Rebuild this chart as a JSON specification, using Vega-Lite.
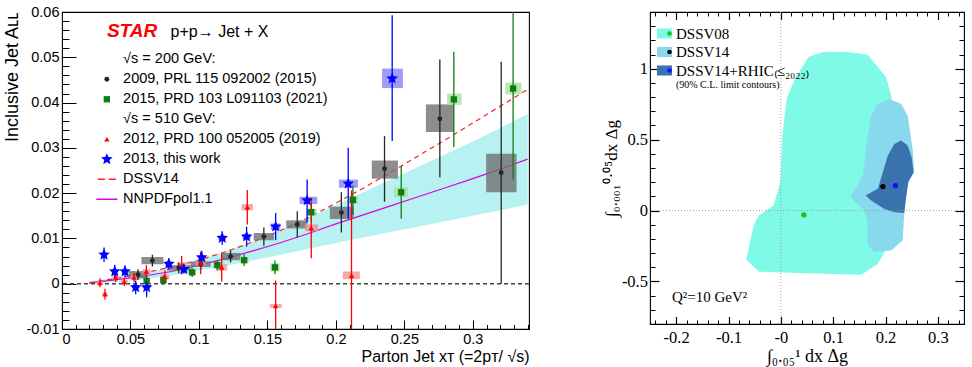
{
  "$schema": "https://vega.github.io/schema/vega-lite/v6.json",
  "background": "white",
  "padding": {"left": 3, "top": 3, "right": 0, "bottom": 0},
  "spacing": 121,
  "bounds": "flush",
  "resolve": {
    "scale": {"color": "independent", "fill": "independent", "shape": "independent", "size": "independent"},
    "legend": {"color": "independent", "fill": "independent", "shape": "independent", "size": "independent"}
  },
  "config": {
    "view": {"stroke": "#000000", "strokeWidth": 1.1},
    "axis": {"grid": false, "domain": false, "tickColor": "#000000", "labelColor": "#000000", "titleColor": "#000000", "titleFontWeight": "normal", "tickWidth": 1}
  },
  "datasets": {
    "pts": [
      {"series": "2009, PRL 115 092002 (2015)", "x": 0.0555, "y": 0.0020, "elo": 0.0008, "ehi": 0.0032, "bx1": 0.0485, "bx2": 0.0625, "by1": 0.0012, "by2": 0.0028},
      {"series": "2009, PRL 115 092002 (2015)", "x": 0.066, "y": 0.0051, "elo": 0.0038, "ehi": 0.0064, "bx1": 0.058, "bx2": 0.074, "by1": 0.0043, "by2": 0.0059},
      {"series": "2009, PRL 115 092002 (2015)", "x": 0.0852, "y": 0.0035, "elo": 0.0023, "ehi": 0.0047, "bx1": 0.0766, "bx2": 0.0939, "by1": 0.0029, "by2": 0.0041},
      {"series": "2009, PRL 115 092002 (2015)", "x": 0.1013, "y": 0.0043, "elo": 0.0030, "ehi": 0.0056, "bx1": 0.094, "bx2": 0.1085, "by1": 0.0037, "by2": 0.0049},
      {"series": "2009, PRL 115 092002 (2015)", "x": 0.1231, "y": 0.0060, "elo": 0.0047, "ehi": 0.0073, "bx1": 0.1166, "bx2": 0.1304, "by1": 0.0052, "by2": 0.0068},
      {"series": "2009, PRL 115 092002 (2015)", "x": 0.1474, "y": 0.0104, "elo": 0.0084, "ehi": 0.0124, "bx1": 0.140, "bx2": 0.1547, "by1": 0.0096, "by2": 0.0112},
      {"series": "2009, PRL 115 092002 (2015)", "x": 0.1718, "y": 0.0131, "elo": 0.0102, "ehi": 0.0160, "bx1": 0.1637, "bx2": 0.179, "by1": 0.0122, "by2": 0.0140},
      {"series": "2009, PRL 115 092002 (2015)", "x": 0.204, "y": 0.0157, "elo": 0.0113, "ehi": 0.0202, "bx1": 0.1956, "bx2": 0.2131, "by1": 0.0143, "by2": 0.0170},
      {"series": "2009, PRL 115 092002 (2015)", "x": 0.2355, "y": 0.0254, "elo": 0.0181, "ehi": 0.0326, "bx1": 0.2262, "bx2": 0.2453, "by1": 0.0232, "by2": 0.0272},
      {"series": "2009, PRL 115 092002 (2015)", "x": 0.2759, "y": 0.0364, "elo": 0.0235, "ehi": 0.0495, "bx1": 0.2657, "bx2": 0.2861, "by1": 0.0335, "by2": 0.0396},
      {"series": "2009, PRL 115 092002 (2015)", "x": 0.3207, "y": 0.0245, "elo": 0.0000, "ehi": 0.0490, "bx1": 0.3097, "bx2": 0.3319, "by1": 0.0202, "by2": 0.0287},
      {"series": "2015, PRD 103 L091103 (2021)", "x": 0.0618, "y": 0.0006, "elo": -0.0004, "ehi": 0.0016, "bx1": 0.0595, "bx2": 0.0641, "by1": 0.0001, "by2": 0.0011},
      {"series": "2015, PRD 103 L091103 (2021)", "x": 0.074, "y": 0.0008, "elo": -0.0002, "ehi": 0.0018, "bx1": 0.0715, "bx2": 0.0765, "by1": 0.0003, "by2": 0.0013},
      {"series": "2015, PRD 103 L091103 (2021)", "x": 0.095, "y": 0.0025, "elo": 0.0015, "ehi": 0.0035, "bx1": 0.0922, "bx2": 0.0978, "by1": 0.0020, "by2": 0.0030},
      {"series": "2015, PRD 103 L091103 (2021)", "x": 0.1134, "y": 0.0041, "elo": 0.0030, "ehi": 0.0052, "bx1": 0.1104, "bx2": 0.1164, "by1": 0.0035, "by2": 0.0047},
      {"series": "2015, PRD 103 L091103 (2021)", "x": 0.133, "y": 0.0052, "elo": 0.0039, "ehi": 0.0065, "bx1": 0.1298, "bx2": 0.1362, "by1": 0.0045, "by2": 0.0059},
      {"series": "2015, PRD 103 L091103 (2021)", "x": 0.1555, "y": 0.0036, "elo": 0.0021, "ehi": 0.0051, "bx1": 0.1521, "bx2": 0.1589, "by1": 0.0027, "by2": 0.0045},
      {"series": "2015, PRD 103 L091103 (2021)", "x": 0.182, "y": 0.0158, "elo": 0.0138, "ehi": 0.0178, "bx1": 0.1783, "bx2": 0.1857, "by1": 0.0150, "by2": 0.0166},
      {"series": "2015, PRD 103 L091103 (2021)", "x": 0.2124, "y": 0.0185, "elo": 0.0153, "ehi": 0.0217, "bx1": 0.2085, "bx2": 0.2163, "by1": 0.0176, "by2": 0.0194},
      {"series": "2015, PRD 103 L091103 (2021)", "x": 0.2477, "y": 0.0202, "elo": 0.0144, "ehi": 0.0260, "bx1": 0.2423, "bx2": 0.2526, "by1": 0.0191, "by2": 0.0213},
      {"series": "2015, PRD 103 L091103 (2021)", "x": 0.2861, "y": 0.0407, "elo": 0.0302, "ehi": 0.0512, "bx1": 0.2812, "bx2": 0.2917, "by1": 0.0395, "by2": 0.0420},
      {"series": "2015, PRD 103 L091103 (2021)", "x": 0.3294, "y": 0.0431, "elo": 0.0230, "ehi": 0.0640, "bx1": 0.3238, "bx2": 0.3355, "by1": 0.0418, "by2": 0.0444},
      {"series": "2012, PRD 100 052005 (2019)", "x": 0.0277, "y": 0.0002, "elo": -0.0008, "ehi": 0.0012, "bx1": 0.0255, "bx2": 0.0299, "by1": -0.0002, "by2": 0.0006},
      {"series": "2012, PRD 100 052005 (2019)", "x": 0.0314, "y": -0.0023, "elo": -0.0035, "ehi": -0.0011, "bx1": 0.0295, "bx2": 0.0333, "by1": -0.0027, "by2": -0.0019},
      {"series": "2012, PRD 100 052005 (2019)", "x": 0.0392, "y": 0.0014, "elo": 0.0004, "ehi": 0.0024, "bx1": 0.0368, "bx2": 0.0416, "by1": 0.0010, "by2": 0.0018},
      {"series": "2012, PRD 100 052005 (2019)", "x": 0.0455, "y": 0.0004, "elo": -0.0005, "ehi": 0.0013, "bx1": 0.0430, "bx2": 0.0480, "by1": 0.0000, "by2": 0.0008},
      {"series": "2012, PRD 100 052005 (2019)", "x": 0.0526, "y": 0.0014, "elo": 0.0004, "ehi": 0.0024, "bx1": 0.0498, "bx2": 0.0554, "by1": 0.0010, "by2": 0.0018},
      {"series": "2012, PRD 100 052005 (2019)", "x": 0.0616, "y": 0.0027, "elo": 0.0013, "ehi": 0.0041, "bx1": 0.0586, "bx2": 0.0646, "by1": 0.0022, "by2": 0.0032},
      {"series": "2012, PRD 100 052005 (2019)", "x": 0.0752, "y": 0.0015, "elo": 0.0000, "ehi": 0.0030, "bx1": 0.0720, "bx2": 0.0784, "by1": 0.0010, "by2": 0.0020},
      {"series": "2012, PRD 100 052005 (2019)", "x": 0.0874, "y": 0.0041, "elo": 0.0021, "ehi": 0.0061, "bx1": 0.0838, "bx2": 0.0910, "by1": 0.0035, "by2": 0.0047},
      {"series": "2012, PRD 100 052005 (2019)", "x": 0.1012, "y": 0.0046, "elo": 0.0021, "ehi": 0.0071, "bx1": 0.0974, "bx2": 0.1050, "by1": 0.0040, "by2": 0.0052},
      {"series": "2012, PRD 100 052005 (2019)", "x": 0.1166, "y": 0.0036, "elo": 0.0005, "ehi": 0.0067, "bx1": 0.1126, "bx2": 0.1206, "by1": 0.0029, "by2": 0.0043},
      {"series": "2012, PRD 100 052005 (2019)", "x": 0.1353, "y": 0.0169, "elo": 0.0131, "ehi": 0.0207, "bx1": 0.1312, "bx2": 0.1394, "by1": 0.0162, "by2": 0.0176},
      {"series": "2012, PRD 100 052005 (2019)", "x": 0.156, "y": -0.0049, "elo": -0.0110, "ehi": 0.0007, "bx1": 0.1516, "bx2": 0.1604, "by1": -0.0053, "by2": -0.0045},
      {"series": "2012, PRD 100 052005 (2019)", "x": 0.182, "y": 0.0123, "elo": 0.0056, "ehi": 0.0190, "bx1": 0.1774, "bx2": 0.1869, "by1": 0.0116, "by2": 0.0131},
      {"series": "2012, PRD 100 052005 (2019)", "x": 0.2114, "y": 0.0018, "elo": -0.0170, "ehi": 0.0206, "bx1": 0.2051, "bx2": 0.2175, "by1": 0.0010, "by2": 0.0027},
      {"series": "2013, this work", "x": 0.0307, "y": 0.0064, "elo": 0.0048, "ehi": 0.0080, "bx1": 0.0285, "bx2": 0.0329, "by1": 0.0060, "by2": 0.0068},
      {"series": "2013, this work", "x": 0.0385, "y": 0.0027, "elo": 0.0012, "ehi": 0.0042, "bx1": 0.0363, "bx2": 0.0407, "by1": 0.0023, "by2": 0.0031},
      {"series": "2013, this work", "x": 0.046, "y": 0.0027, "elo": 0.0014, "ehi": 0.0040, "bx1": 0.0437, "bx2": 0.0483, "by1": 0.0023, "by2": 0.0031},
      {"series": "2013, this work", "x": 0.0538, "y": -0.0008, "elo": -0.0023, "ehi": 0.0007, "bx1": 0.0514, "bx2": 0.0562, "by1": -0.0012, "by2": -0.0004},
      {"series": "2013, this work", "x": 0.0618, "y": -0.0008, "elo": -0.0030, "ehi": 0.0014, "bx1": 0.0594, "bx2": 0.0642, "by1": -0.0012, "by2": -0.0004},
      {"series": "2013, this work", "x": 0.078, "y": 0.0044, "elo": 0.0032, "ehi": 0.0056, "bx1": 0.0755, "bx2": 0.0805, "by1": 0.0040, "by2": 0.0048},
      {"series": "2013, this work", "x": 0.089, "y": 0.0032, "elo": 0.0022, "ehi": 0.0042, "bx1": 0.0864, "bx2": 0.0916, "by1": 0.0028, "by2": 0.0036},
      {"series": "2013, this work", "x": 0.102, "y": 0.0058, "elo": 0.0043, "ehi": 0.0073, "bx1": 0.0993, "bx2": 0.1047, "by1": 0.0053, "by2": 0.0063},
      {"series": "2013, this work", "x": 0.117, "y": 0.0101, "elo": 0.0086, "ehi": 0.0116, "bx1": 0.1142, "bx2": 0.1198, "by1": 0.0096, "by2": 0.0106},
      {"series": "2013, this work", "x": 0.1348, "y": 0.0104, "elo": 0.0082, "ehi": 0.0126, "bx1": 0.1318, "bx2": 0.1378, "by1": 0.0098, "by2": 0.0110},
      {"series": "2013, this work", "x": 0.156, "y": 0.0126, "elo": 0.0096, "ehi": 0.0156, "bx1": 0.1525, "bx2": 0.1595, "by1": 0.0119, "by2": 0.0133},
      {"series": "2013, this work", "x": 0.179, "y": 0.0184, "elo": 0.0135, "ehi": 0.0230, "bx1": 0.1735, "bx2": 0.1864, "by1": 0.0176, "by2": 0.0192},
      {"series": "2013, this work", "x": 0.209, "y": 0.0221, "elo": 0.0144, "ehi": 0.0300, "bx1": 0.2022, "bx2": 0.2161, "by1": 0.0212, "by2": 0.0230},
      {"series": "2013, this work", "x": 0.2411, "y": 0.0453, "elo": 0.0315, "ehi": 0.0593, "bx1": 0.2337, "bx2": 0.2489, "by1": 0.0432, "by2": 0.0475}
    ],
    "dssv": [
      {"x": 0.02, "y": 0.0002}, {"x": 0.04, "y": 0.0012}, {"x": 0.06, "y": 0.0024}, {"x": 0.08, "y": 0.0037},
      {"x": 0.10, "y": 0.0052}, {"x": 0.12, "y": 0.0071}, {"x": 0.14, "y": 0.0093}, {"x": 0.16, "y": 0.0118},
      {"x": 0.18, "y": 0.0146}, {"x": 0.20, "y": 0.0178}, {"x": 0.22, "y": 0.0211}, {"x": 0.24, "y": 0.0246},
      {"x": 0.26, "y": 0.0282}, {"x": 0.28, "y": 0.0318}, {"x": 0.30, "y": 0.0355}, {"x": 0.32, "y": 0.0392},
      {"x": 0.34, "y": 0.0429}
    ],
    "nnpdf": [
      {"x": 0.02, "c": 0.0002, "lo": -0.0001, "hi": 0.0005},
      {"x": 0.04, "c": 0.0009, "lo": 0.0004, "hi": 0.0014},
      {"x": 0.06, "c": 0.0017, "lo": 0.0010, "hi": 0.0024},
      {"x": 0.08, "c": 0.0027, "lo": 0.0018, "hi": 0.0036},
      {"x": 0.10, "c": 0.0041, "lo": 0.0029, "hi": 0.0053},
      {"x": 0.12, "c": 0.0056, "lo": 0.0040, "hi": 0.0072},
      {"x": 0.14, "c": 0.0073, "lo": 0.0052, "hi": 0.0094},
      {"x": 0.16, "c": 0.0091, "lo": 0.0064, "hi": 0.0118},
      {"x": 0.18, "c": 0.0111, "lo": 0.0077, "hi": 0.0145},
      {"x": 0.20, "c": 0.0132, "lo": 0.0090, "hi": 0.0174},
      {"x": 0.22, "c": 0.0152, "lo": 0.0102, "hi": 0.0202},
      {"x": 0.24, "c": 0.0172, "lo": 0.0114, "hi": 0.0230},
      {"x": 0.26, "c": 0.0192, "lo": 0.0126, "hi": 0.0258},
      {"x": 0.28, "c": 0.0212, "lo": 0.0138, "hi": 0.0286},
      {"x": 0.30, "c": 0.0232, "lo": 0.0150, "hi": 0.0314},
      {"x": 0.32, "c": 0.0253, "lo": 0.0162, "hi": 0.0344},
      {"x": 0.34, "c": 0.0275, "lo": 0.0175, "hi": 0.0375}
    ],
    "poly": [
      {"set": "DSSV08", "i": 1, "x": 0.053, "y": 1.083},
      {"set": "DSSV08", "i": 2, "x": 0.081, "y": 1.118},
      {"set": "DSSV08", "i": 3, "x": 0.128, "y": 1.118},
      {"set": "DSSV08", "i": 4, "x": 0.166, "y": 1.099},
      {"set": "DSSV08", "i": 5, "x": 0.201, "y": 0.941},
      {"set": "DSSV08", "i": 6, "x": 0.211, "y": 0.812},
      {"set": "DSSV08", "i": 7, "x": 0.222, "y": 0.50},
      {"set": "DSSV08", "i": 8, "x": 0.232, "y": 0.06},
      {"set": "DSSV08", "i": 9, "x": 0.214, "y": -0.224},
      {"set": "DSSV08", "i": 10, "x": 0.198, "y": -0.294},
      {"set": "DSSV08", "i": 11, "x": 0.185, "y": -0.377},
      {"set": "DSSV08", "i": 12, "x": 0.154, "y": -0.452},
      {"set": "DSSV08", "i": 13, "x": 0.002, "y": -0.436},
      {"set": "DSSV08", "i": 14, "x": -0.042, "y": -0.431},
      {"set": "DSSV08", "i": 15, "x": -0.066, "y": -0.346},
      {"set": "DSSV08", "i": 16, "x": -0.052, "y": -0.106},
      {"set": "DSSV08", "i": 17, "x": -0.042, "y": -0.035},
      {"set": "DSSV08", "i": 18, "x": -0.014, "y": 0.035},
      {"set": "DSSV08", "i": 19, "x": -0.001, "y": 0.2},
      {"set": "DSSV08", "i": 20, "x": 0.003, "y": 0.532},
      {"set": "DSSV08", "i": 21, "x": 0.011, "y": 0.788},
      {"set": "DSSV08", "i": 22, "x": 0.027, "y": 0.929},
      {"set": "DSSV14", "i": 1, "x": 0.185, "y": 0.753},
      {"set": "DSSV14", "i": 2, "x": 0.2076, "y": 0.784},
      {"set": "DSSV14", "i": 3, "x": 0.2296, "y": 0.753},
      {"set": "DSSV14", "i": 4, "x": 0.2423, "y": 0.671},
      {"set": "DSSV14", "i": 5, "x": 0.2518, "y": 0.435},
      {"set": "DSSV14", "i": 6, "x": 0.255, "y": 0.27},
      {"set": "DSSV14", "i": 7, "x": 0.2423, "y": 0.2},
      {"set": "DSSV14", "i": 8, "x": 0.236, "y": 0.0},
      {"set": "DSSV14", "i": 9, "x": 0.2328, "y": -0.212},
      {"set": "DSSV14", "i": 10, "x": 0.2106, "y": -0.282},
      {"set": "DSSV14", "i": 11, "x": 0.179, "y": -0.29},
      {"set": "DSSV14", "i": 12, "x": 0.166, "y": -0.247},
      {"set": "DSSV14", "i": 13, "x": 0.166, "y": -0.083},
      {"set": "DSSV14", "i": 14, "x": 0.16, "y": 0.0},
      {"set": "DSSV14", "i": 15, "x": 0.1328, "y": 0.094},
      {"set": "DSSV14", "i": 16, "x": 0.157, "y": 0.247},
      {"set": "DSSV14", "i": 17, "x": 0.166, "y": 0.53},
      {"set": "DSSV14", "i": 18, "x": 0.173, "y": 0.671},
      {"set": "DSSV14+RHIC", "i": 1, "x": 0.217, "y": 0.47},
      {"set": "DSSV14+RHIC", "i": 2, "x": 0.2296, "y": 0.494},
      {"set": "DSSV14+RHIC", "i": 3, "x": 0.2423, "y": 0.459},
      {"set": "DSSV14+RHIC", "i": 4, "x": 0.25, "y": 0.376},
      {"set": "DSSV14+RHIC", "i": 5, "x": 0.2537, "y": 0.27},
      {"set": "DSSV14+RHIC", "i": 6, "x": 0.2436, "y": 0.2},
      {"set": "DSSV14+RHIC", "i": 7, "x": 0.239, "y": 0.082},
      {"set": "DSSV14+RHIC", "i": 8, "x": 0.236, "y": -0.017},
      {"set": "DSSV14+RHIC", "i": 9, "x": 0.217, "y": -0.012},
      {"set": "DSSV14+RHIC", "i": 10, "x": 0.198, "y": 0.011},
      {"set": "DSSV14+RHIC", "i": 11, "x": 0.1727, "y": 0.071},
      {"set": "DSSV14+RHIC", "i": 12, "x": 0.162, "y": 0.106},
      {"set": "DSSV14+RHIC", "i": 13, "x": 0.1854, "y": 0.153},
      {"set": "DSSV14+RHIC", "i": 14, "x": 0.1949, "y": 0.27},
      {"set": "DSSV14+RHIC", "i": 15, "x": 0.2044, "y": 0.388}
    ],
    "bf": [
      {"fit": "DSSV08 best fit", "x": 0.044, "y": -0.031},
      {"fit": "DSSV14 best fit", "x": 0.195, "y": 0.169},
      {"fit": "DSSV14+RHIC best fit", "x": 0.219, "y": 0.176}
    ]
  },
  "hconcat": [
    {
      "width": 467,
      "height": 317,
      "resolve": {"axis": {"x": "independent", "y": "independent"}},
      "layer": [
        {
          "data": {"name": "nnpdf"},
          "mark": {"type": "area", "color": "#10d0d0", "opacity": 0.3},
          "encoding": {
            "x": {"field": "x", "type": "quantitative", "scale": {"domain": [0, 0.341], "nice": false, "zero": false},
              "axis": {"orient": "bottom", "values": [0, 0.05, 0.1, 0.15, 0.2, 0.25, 0.3], "labelExpr": "'' + datum.value", "tickSize": -9, "labelPadding": 12, "labelFont": "Liberation Sans", "labelFontSize": 14.5, "title": "Parton Jet xᴛ (=2pᴛ/ √s)", "titleFont": "Liberation Sans", "titleFontSize": 16, "titleAnchor": "end", "titlePadding": 3}},
            "y": {"field": "lo", "type": "quantitative", "scale": {"domain": [-0.01, 0.06], "nice": false, "zero": false},
              "axis": {"orient": "left", "values": [-0.01, 0, 0.01, 0.02, 0.03, 0.04, 0.05, 0.06], "labelExpr": "'' + datum.value", "tickSize": -14, "labelPadding": 17, "labelFont": "Liberation Sans", "labelFontSize": 14.5, "title": "Inclusive Jet Aʟʟ", "titleFont": "Liberation Sans", "titleFontSize": 18, "titleAnchor": "end", "titlePadding": 4}},
            "y2": {"field": "hi"}
          }
        },
        {
          "data": {"name": "nnpdf"},
          "mark": {"type": "line", "color": "#e000e0", "strokeWidth": 1.2},
          "encoding": {
            "x": {"field": "x", "type": "quantitative", "scale": {"domain": [0, 0.341], "nice": false, "zero": false}, "axis": null},
            "y": {"field": "c", "type": "quantitative", "scale": {"domain": [-0.01, 0.06], "nice": false, "zero": false}, "axis": null}
          }
        },
        {
          "data": {"name": "dssv"},
          "mark": {"type": "line", "color": "#ff2020", "strokeDash": [5, 4], "strokeWidth": 1.2, "clip": true},
          "encoding": {
            "x": {"field": "x", "type": "quantitative", "scale": {"domain": [0, 0.341], "nice": false, "zero": false},
              "axis": {"orient": "bottom", "values": [0.01, 0.02, 0.03, 0.04, 0.06, 0.07, 0.08, 0.09, 0.11, 0.12, 0.13, 0.14, 0.16, 0.17, 0.18, 0.19, 0.21, 0.22, 0.23, 0.24, 0.26, 0.27, 0.28, 0.29, 0.31, 0.32, 0.33, 0.34], "labels": false, "tickSize": -4.5, "title": null}},
            "y": {"field": "y", "type": "quantitative", "scale": {"domain": [-0.01, 0.06], "nice": false, "zero": false},
              "axis": {"orient": "left", "values": [-0.008, -0.006, -0.004, -0.002, 0.002, 0.004, 0.006, 0.008, 0.012, 0.014, 0.016, 0.018, 0.022, 0.024, 0.026, 0.028, 0.032, 0.034, 0.036, 0.038, 0.042, 0.044, 0.046, 0.048, 0.052, 0.054, 0.056, 0.058], "labels": false, "tickSize": -7, "title": null}}
          }
        },
        {
          "data": {"values": [{"zero": 0}]},
          "mark": {"type": "rule", "color": "#444444", "strokeDash": [4, 3], "strokeWidth": 1.5},
          "encoding": {
            "y": {"field": "zero", "type": "quantitative", "scale": {"domain": [-0.01, 0.06], "nice": false, "zero": false}, "axis": null}
          }
        },
        {
          "data": {"name": "pts"},
          "mark": {"type": "rect", "clip": true, "opacity": 0.8},
          "encoding": {
            "x": {"field": "bx1", "type": "quantitative", "scale": {"domain": [0, 0.341], "nice": false, "zero": false}, "axis": null},
            "x2": {"field": "bx2"},
            "y": {"field": "by1", "type": "quantitative", "scale": {"domain": [-0.01, 0.06], "nice": false, "zero": false}, "axis": null},
            "y2": {"field": "by2"},
            "fill": {"field": "series", "type": "nominal", "scale": {"domain": ["2009, PRL 115 092002 (2015)", "2015, PRD 103 L091103 (2021)", "2012, PRD 100 052005 (2019)", "2013, this work"], "range": ["#707070", "#a2e29c", "#f69090", "#8585f5"]}, "legend": null}
          }
        },
        {
          "data": {"name": "pts"},
          "mark": {"type": "rule", "clip": true, "strokeWidth": 1.3},
          "encoding": {
            "x": {"field": "x", "type": "quantitative", "scale": {"domain": [0, 0.341], "nice": false, "zero": false}, "axis": null},
            "y": {"field": "elo", "type": "quantitative", "scale": {"domain": [-0.01, 0.06], "nice": false, "zero": false}, "axis": null},
            "y2": {"field": "ehi"},
            "color": {"field": "series", "type": "nominal", "scale": {"domain": ["√s = 200 GeV:", "2009, PRL 115 092002 (2015)", "2015, PRD 103 L091103 (2021)", "√s = 510 GeV:", "2012, PRD 100 052005 (2019)", "2013, this work", "DSSV14", "NNPDFpol1.1"], "range": ["transparent", "#262626", "#137a13", "transparent", "#ff0000", "#0000ff", "#ff2020", "#e000e0"]}}
          }
        },
        {
          "data": {"name": "pts"},
          "mark": {"type": "point", "filled": true, "opacity": 1, "clip": true},
          "encoding": {
            "x": {"field": "x", "type": "quantitative", "scale": {"domain": [0, 0.341], "nice": false, "zero": false}, "axis": null},
            "y": {"field": "y", "type": "quantitative", "scale": {"domain": [-0.01, 0.06], "nice": false, "zero": false}, "axis": null},
            "color": {"field": "series", "type": "nominal", "scale": {"domain": ["√s = 200 GeV:", "2009, PRL 115 092002 (2015)", "2015, PRD 103 L091103 (2021)", "√s = 510 GeV:", "2012, PRD 100 052005 (2019)", "2013, this work", "DSSV14", "NNPDFpol1.1"], "range": ["transparent", "#262626", "#137a13", "transparent", "#ff0000", "#0000ff", "#ff2020", "#e000e0"]}},
            "size": {"field": "series", "type": "nominal", "scale": {"type": "ordinal", "domain": ["√s = 200 GeV:", "2009, PRL 115 092002 (2015)", "2015, PRD 103 L091103 (2021)", "√s = 510 GeV:", "2012, PRD 100 052005 (2019)", "2013, this work", "DSSV14", "NNPDFpol1.1"], "range": [4, 24, 40, 4, 30, 150, 100, 100]}},
            "shape": {"field": "series", "type": "nominal",
              "scale": {"domain": ["√s = 200 GeV:", "2009, PRL 115 092002 (2015)", "2015, PRD 103 L091103 (2021)", "√s = 510 GeV:", "2012, PRD 100 052005 (2019)", "2013, this work", "DSSV14", "NNPDFpol1.1"],
                "range": ["circle", "circle", "square", "circle", "triangle-up", "M0,-1L0.265,-0.364L0.951,-0.309L0.428,0.139L0.588,0.809L0,0.45L-0.588,0.809L-0.428,0.139L-0.951,-0.309L-0.265,-0.364Z", "M-1.8,-0.15H-0.4V0.15H-1.8Z M0.4,-0.15H1.8V0.15H0.4Z", "M-2.1,-0.15H2.1V0.15H-2.1Z"]},
              "legend": {
                "orient": "none", "legendX": 37.6, "legendY": 40, "title": null, "padding": 0,
                "labelFont": "Liberation Sans", "labelFontSize": 14.5, "labelColor": "#000000", "labelOffset": 9, "labelLimit": 400,
                "rowPadding": 5, "symbolStrokeWidth": 0, "symbolOpacity": 1
              }
            }
          }
        },
        {
          "data": {"values": [{"t": "STAR"}]},
          "mark": {"type": "text", "font": "Liberation Sans", "fontSize": 19, "fontWeight": "bold", "fontStyle": "italic", "color": "#ff0000", "align": "left", "baseline": "alphabetic"},
          "encoding": {
            "text": {"field": "t"},
            "x": {"datum": 0.0328, "type": "quantitative", "scale": {"domain": [0, 0.341], "nice": false, "zero": false}, "axis": null},
            "y": {"datum": 0.0545, "type": "quantitative", "scale": {"domain": [-0.01, 0.06], "nice": false, "zero": false}, "axis": null}
          }
        },
        {
          "data": {"values": [{"t": "p+p→ Jet + X"}]},
          "mark": {"type": "text", "font": "Liberation Sans", "fontSize": 16, "color": "#000000", "align": "left", "baseline": "alphabetic"},
          "encoding": {
            "text": {"field": "t"},
            "x": {"datum": 0.0793, "type": "quantitative", "scale": {"domain": [0, 0.341], "nice": false, "zero": false}, "axis": null},
            "y": {"datum": 0.0545, "type": "quantitative", "scale": {"domain": [-0.01, 0.06], "nice": false, "zero": false}, "axis": null}
          }
        }
      ]
    },
    {
      "width": 314,
      "height": 312,
      "resolve": {"axis": {"x": "independent", "y": "independent"}},
      "layer": [
        {
          "data": {"name": "poly"},
          "transform": [{"filter": "datum.set == 'DSSV08'"}],
          "mark": {"type": "line", "interpolate": "linear-closed", "strokeWidth": 0, "stroke": "transparent"},
          "encoding": {
            "x": {"field": "x", "type": "quantitative", "scale": {"domain": [-0.25, 0.35], "nice": false, "zero": false},
              "axis": {"orient": "bottom", "values": [-0.2, -0.1, 0, 0.1, 0.2, 0.3], "labelExpr": "datum.value==0?'-0':''+datum.value", "tickSize": -7.5, "tickWidth": 1.2, "labelPadding": 12.5, "labelFont": "Liberation Serif", "labelFontSize": 16.5, "title": "∫₀.₀₅¹ dx Δg", "titleFont": "Liberation Serif", "titleFontSize": 18, "titlePadding": 2}},
            "y": {"field": "y", "type": "quantitative", "scale": {"domain": [-0.8, 1.4], "nice": false, "zero": false},
              "axis": {"orient": "left", "values": [-0.5, 0, 0.5, 1], "labelExpr": "''+datum.value", "tickSize": -9, "tickWidth": 1.2, "labelPadding": 11.5, "labelFont": "Liberation Serif", "labelFontSize": 16.5, "title": "∫₀.₀₀₁⁰·⁰⁵dx Δg", "titleFont": "Liberation Serif", "titleFontSize": 17, "titlePadding": 1}},
            "order": {"field": "i", "type": "quantitative"},
            "fill": {"field": "set", "type": "nominal", "scale": {"domain": ["DSSV08", "DSSV14", "DSSV14+RHIC"], "range": ["#7ffae6", "#88d8ee", "#3a72ad"]},
              "legend": {"orient": "none", "legendX": 7, "legendY": 14, "padding": 0, "title": null,
                "labelFont": "Liberation Serif", "labelFontSize": 15, "labelColor": "#000000", "labelOffset": 4, "labelLimit": 300,
                "labelExpr": "datum.label=='DSSV14+RHIC'?'DSSV14+RHIC₍≤₂₀₂₂₎':datum.label",
                "symbolType": "M-1,-0.67H1V0.67H-1Z", "symbolSize": 225, "symbolStrokeWidth": 0, "rowPadding": 2.5}}
          }
        },
        {
          "data": {"name": "poly"},
          "transform": [{"filter": "datum.set == 'DSSV14'"}],
          "mark": {"type": "line", "interpolate": "linear-closed", "strokeWidth": 0, "stroke": "transparent"},
          "encoding": {
            "x": {"field": "x", "type": "quantitative", "scale": {"domain": [-0.25, 0.35], "nice": false, "zero": false},
              "axis": {"orient": "bottom", "values": [-0.24, -0.22, -0.18, -0.16, -0.14, -0.12, -0.08, -0.06, -0.04, -0.02, 0.02, 0.04, 0.06, 0.08, 0.12, 0.14, 0.16, 0.18, 0.22, 0.24, 0.26, 0.28, 0.32, 0.34], "labels": false, "tickSize": -4, "title": null}},
            "y": {"field": "y", "type": "quantitative", "scale": {"domain": [-0.8, 1.4], "nice": false, "zero": false},
              "axis": {"orient": "left", "values": [-0.7, -0.6, -0.4, -0.3, -0.2, -0.1, 0.1, 0.2, 0.3, 0.4, 0.6, 0.7, 0.8, 0.9, 1.1, 1.2, 1.3], "labels": false, "tickSize": -5, "title": null}},
            "order": {"field": "i", "type": "quantitative"},
            "fill": {"field": "set", "type": "nominal", "scale": {"domain": ["DSSV08", "DSSV14", "DSSV14+RHIC"], "range": ["#7ffae6", "#88d8ee", "#3a72ad"]}}
          }
        },
        {
          "data": {"name": "poly"},
          "transform": [{"filter": "datum.set == 'DSSV14+RHIC'"}],
          "mark": {"type": "line", "interpolate": "linear-closed", "strokeWidth": 0, "stroke": "transparent"},
          "encoding": {
            "x": {"field": "x", "type": "quantitative", "scale": {"domain": [-0.25, 0.35], "nice": false, "zero": false},
              "axis": {"orient": "top", "values": [-0.2, -0.1, 0, 0.1, 0.2, 0.3], "labels": false, "tickSize": -7.5, "tickWidth": 1.2, "title": null}},
            "y": {"field": "y", "type": "quantitative", "scale": {"domain": [-0.8, 1.4], "nice": false, "zero": false},
              "axis": {"orient": "right", "values": [-0.5, 0, 0.5, 1], "labels": false, "tickSize": -9, "tickWidth": 1.2, "title": null}},
            "order": {"field": "i", "type": "quantitative"},
            "fill": {"field": "set", "type": "nominal", "scale": {"domain": ["DSSV08", "DSSV14", "DSSV14+RHIC"], "range": ["#7ffae6", "#88d8ee", "#3a72ad"]}}
          }
        },
        {
          "data": {"values": [{"v": 0}]},
          "mark": {"type": "rule", "color": "#999999", "strokeDash": [1, 2], "strokeWidth": 0.9},
          "encoding": {
            "x": {"field": "v", "type": "quantitative", "scale": {"domain": [-0.25, 0.35], "nice": false, "zero": false}, "axis": null}
          }
        },
        {
          "data": {"values": [{"v": 0}]},
          "mark": {"type": "rule", "color": "#999999", "strokeDash": [1, 2], "strokeWidth": 0.9},
          "encoding": {
            "y": {"field": "v", "type": "quantitative", "scale": {"domain": [-0.8, 1.4], "nice": false, "zero": false}, "axis": null}
          }
        },
        {
          "data": {"name": "bf"},
          "mark": {"type": "point", "filled": true, "size": 28, "opacity": 1},
          "encoding": {
            "x": {"field": "x", "type": "quantitative", "scale": {"domain": [-0.25, 0.35], "nice": false, "zero": false},
              "axis": {"orient": "top", "values": [-0.24, -0.22, -0.18, -0.16, -0.14, -0.12, -0.08, -0.06, -0.04, -0.02, 0.02, 0.04, 0.06, 0.08, 0.12, 0.14, 0.16, 0.18, 0.22, 0.24, 0.26, 0.28, 0.32, 0.34], "labels": false, "tickSize": -4, "title": null}},
            "y": {"field": "y", "type": "quantitative", "scale": {"domain": [-0.8, 1.4], "nice": false, "zero": false},
              "axis": {"orient": "right", "values": [-0.7, -0.6, -0.4, -0.3, -0.2, -0.1, 0.1, 0.2, 0.3, 0.4, 0.6, 0.7, 0.8, 0.9, 1.1, 1.2, 1.3], "labels": false, "tickSize": -5, "title": null}},
            "color": {"field": "fit", "type": "nominal", "scale": {"domain": ["DSSV08 best fit", "DSSV14 best fit", "DSSV14+RHIC best fit"], "range": ["#1fbf1f", "#000000", "#1010ff"]},
              "legend": {"orient": "none", "legendX": 12, "legendY": 14, "padding": 0, "title": null,
                "labelFont": "Liberation Serif", "labelFontSize": 15, "labelExpr": "' '", "labelOffset": 4,
                "symbolType": "circle", "symbolSize": 22, "rowPadding": 2.5}}
          }
        },
        {
          "data": {"values": [{"t": "(90% C.L. limit contours)"}]},
          "mark": {"type": "text", "font": "Liberation Serif", "fontSize": 10, "color": "#000000", "align": "left", "baseline": "alphabetic"},
          "encoding": {
            "text": {"field": "t"},
            "x": {"datum": -0.2004, "type": "quantitative", "scale": {"domain": [-0.25, 0.35], "nice": false, "zero": false}, "axis": null},
            "y": {"datum": 0.862, "type": "quantitative", "scale": {"domain": [-0.8, 1.4], "nice": false, "zero": false}, "axis": null}
          }
        },
        {
          "data": {"values": [{"t": "Q²=10 GeV²"}]},
          "mark": {"type": "text", "font": "Liberation Serif", "fontSize": 15, "color": "#000000", "align": "left", "baseline": "alphabetic"},
          "encoding": {
            "text": {"field": "t"},
            "x": {"datum": -0.208, "type": "quantitative", "scale": {"domain": [-0.25, 0.35], "nice": false, "zero": false}, "axis": null},
            "y": {"datum": -0.648, "type": "quantitative", "scale": {"domain": [-0.8, 1.4], "nice": false, "zero": false}, "axis": null}
          }
        }
      ]
    }
  ]
}
